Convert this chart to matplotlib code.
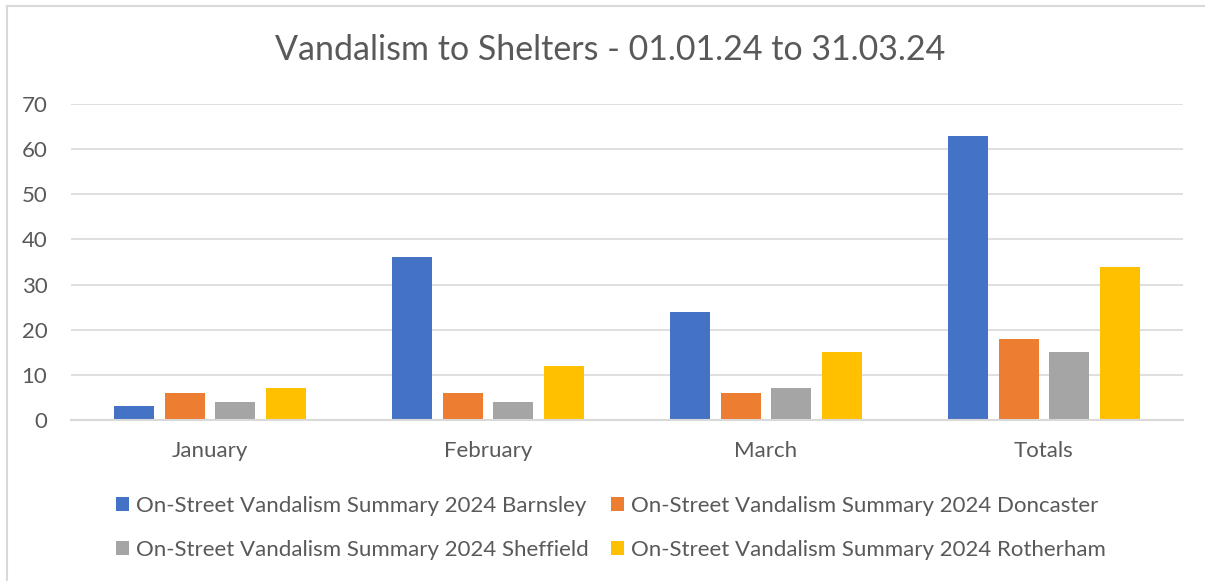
import matplotlib.pyplot as plt
import numpy as np
from matplotlib.lines import Line2D

# data
months = ['January', 'February', 'March', 'Totals']
barnsley = [3, 36, 24, 63]
doncaster = [6, 6, 6, 18]
sheffield = [4, 4, 7, 15]
rotherham = [7, 12, 15, 34]

series = [
    ('On-Street Vandalism Summary 2024 Barnsley', barnsley, '#4472C4'),
    ('On-Street Vandalism Summary 2024 Doncaster', doncaster, '#ED7D31'),
    ('On-Street Vandalism Summary 2024 Sheffield', sheffield, '#A5A5A5'),
    ('On-Street Vandalism Summary 2024 Rotherham', rotherham, '#FFC000'),
]

plt.rcParams['font.family'] = ['Lato', 'DejaVu Sans']
text_col = '#595959'

fig = plt.figure(figsize=(12.05, 5.81), dpi=100)
ax = fig.add_axes([71 / 1205, 1 - 420 / 581, 1112 / 1205, 316 / 581])

x = np.arange(len(months))
pitch = 0.182
width = 0.144
handles = []
for i, (name, vals, col) in enumerate(series):
    b = ax.bar(x + (i - 1.5) * pitch, vals, width, color=col, label=name, zorder=3)
    handles.append(b)

ax.set_xlim(-0.5, 3.5)
ax.set_ylim(0, 70)
ax.set_yticks(range(0, 71, 10))
ax.set_xticks(x)
ax.set_xticklabels(months)
ax.yaxis.grid(True, color='#D9D9D9', linewidth=1.2, zorder=0)
for s in ['top', 'right', 'left']:
    ax.spines[s].set_visible(False)
ax.spines['bottom'].set_color('#D9D9D9')
ax.spines['bottom'].set_linewidth(1.5)
ax.spines['bottom'].set_zorder(4)
ax.tick_params(axis='both', length=0, labelsize=16, colors=text_col)
ax.tick_params(axis='y', pad=17)
ax.tick_params(axis='x', pad=15)

fig.text(610 / 1205, 1 - 50 / 581, 'Vandalism to Shelters - 01.01.24 to 31.03.24',
         ha='center', va='center', fontsize=24.5, color=text_col)

# row-major legend order: Barnsley, Doncaster / Sheffield, Rotherham
order = [0, 2, 1, 3]
leg = fig.legend(handles=[handles[k] for k in order], ncol=2, loc='center',
                 bbox_to_anchor=(611 / 1205, 1 - 528 / 581),
                 frameon=False, fontsize=16, handlelength=0.6, handleheight=0.6,
                 handletextpad=0.3, columnspacing=1.0, labelspacing=1.1)
for t in leg.get_texts():
    t.set_color(text_col)

# light chart border (top and left edges visible)
fig.add_artist(Line2D([7 / 1205, 7 / 1205], [0, 1 - 6 / 581], color='#D9D9D9', lw=1.5))
fig.add_artist(Line2D([7 / 1205, 1], [1 - 6 / 581, 1 - 6 / 581], color='#D9D9D9', lw=1.5))

fig.savefig('out.png', dpi=100)
